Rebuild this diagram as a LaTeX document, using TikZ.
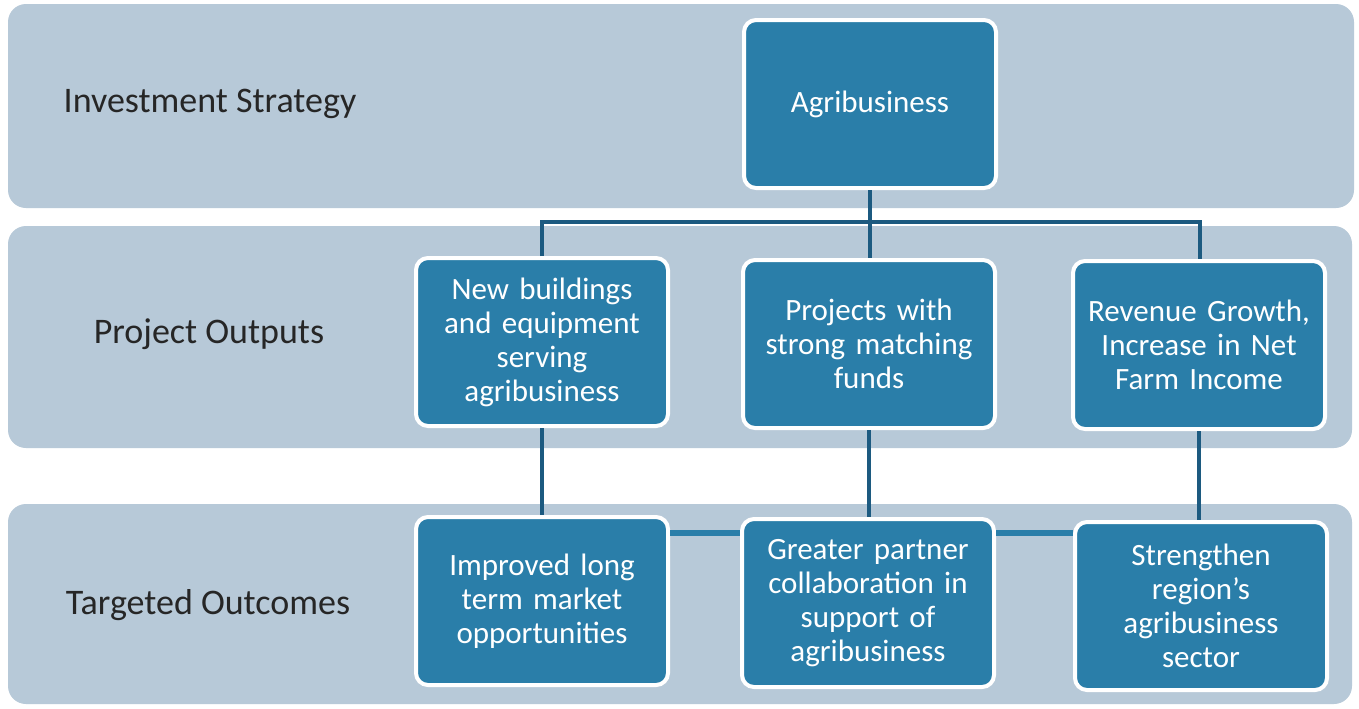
\documentclass[tikz,border=0pt]{standalone}
\usepackage{fontspec}
\setmainfont{Carlito}
\definecolor{band}{HTML}{B7C9D8}
\definecolor{boxc}{HTML}{2A7EA9}
\definecolor{linec}{HTML}{1C5A80}
\begin{document}
\begin{tikzpicture}[x=0.5pt,y=-0.5pt,
  bandbox/.style={fill=band, draw=none, rounded corners=9pt},
  bandlabel/.style={font=\fontsize{18}{21}\selectfont, text=black!85},
  item/.style={fill=boxc, draw=white, line width=2pt, rounded corners=6pt,
    minimum width=126pt, minimum height=84pt, align=center, text width=118pt,
    inner xsep=2pt, text=white, font=\fontsize{15.5}{17}\selectfont},
  conn/.style={draw=linec, line width=2pt},
  link/.style={draw=boxc, line width=3.2pt}]
\useasboundingbox (0,0) rectangle (1359,708);
\fill[white] (0,0) rectangle (1359,708);
% bands
\path[bandbox] (8,4) rectangle (1354,208);
\path[bandbox] (8,226) rectangle (1352,448);
\path[bandbox] (8,504) rectangle (1352,704);
\node[bandlabel] (ls) at (210,104) {Investment Strategy};
\node[bandlabel] (lo) at (209,334) {Project Outputs};
\node[bandlabel] (lt) at (208,605) {Targeted Outcomes};
% junction coordinates
\coordinate (j) at (870,222);
\coordinate (jl) at (542,222);
\coordinate (jr) at (1200,222);
% nodes
\node[item] (agri) at (870,104) {Agribusiness};
\node[item] (nb) at (542,342) {New buildings\\and equipment\\serving\\agribusiness};
\node[item] (pm) at (869,344) {Projects with\\strong matching\\funds};
\node[item] (rg) at (1199,345) {Revenue Growth,\\Increase in Net\\Farm Income};
\node[item] (im) at (542,601) {Improved long\\term market\\opportunities};
\node[item] (gp) at (868,603) {Greater partner\\collaboration in\\support of\\agribusiness};
\node[item] (sr) at (1201,606) {Strengthen\\region's\\agribusiness\\sector};
% connectors
\draw[conn] (agri.south) -- (j);
\draw[conn] (nb.north -| jl) -- (jl) -- (jr) -- (rg.north -| jr);
\draw[conn] (j) -- (pm.north -| j);
\draw[conn] (nb.south) -- (im.north -| nb.south);
\draw[conn] (pm.south) -- (gp.north -| pm.south);
\draw[conn] (rg.south) -- (sr.north -| rg.south);
\draw[link] ([yshift=-9pt]im.north east) -- ([yshift=-9pt]im.north east -| gp.west);
\draw[link] ([yshift=-8pt]gp.north east) -- ([yshift=-8pt]gp.north east -| sr.west);
\end{tikzpicture}
\end{document}
